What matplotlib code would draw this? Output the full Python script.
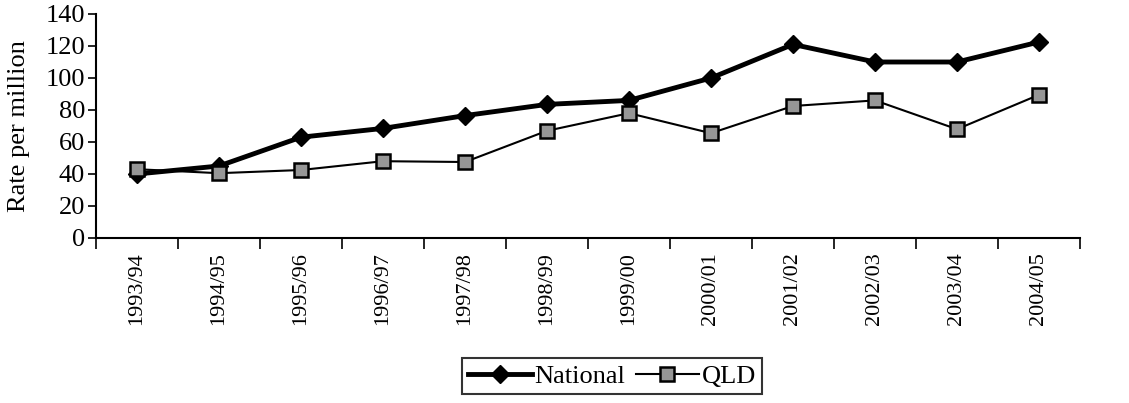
import matplotlib.pyplot as plt
import numpy as np

plt.rcParams['font.family'] = ['Liberation Serif', 'DejaVu Serif']

# data
years = ['1993/94', '1994/95', '1995/96', '1996/97', '1997/98', '1998/99',
         '1999/00', '2000/01', '2001/02', '2002/03', '2003/04', '2004/05']
national = [40, 45, 63, 68.5, 76.5, 83.5, 86, 100, 121, 110, 110, 122.5]
qld = [43, 40.5, 42.5, 48, 47.5, 67, 78, 65.5, 82.5, 86, 68, 89.5]

fig = plt.figure(figsize=(11.29, 4.03), dpi=100)
ax = fig.add_axes([96 / 1129, 1 - 238 / 403, 984 / 1129, 224 / 403])

x = np.arange(len(years))
ax.plot(x, national, color='black', lw=3.5, marker='D', ms=9.5,
        mfc='black', mec='black', label='National', zorder=3)
ax.plot(x, qld, color='black', lw=1.5, marker='s', ms=9.5,
        mfc='#969696', mec='black', mew=1.8, label='QLD', zorder=3)

ax.set_xlim(-0.5, len(years) - 0.5)
ax.set_ylim(0, 140)
ax.set_yticks(range(0, 141, 20))
ax.tick_params(axis='y', labelsize=19, direction='out', length=6, width=1.2, pad=2)

# category ticks sit between categories, labels at centres
ax.set_xticks(np.arange(-0.5, len(years)), minor=False)
ax.set_xticklabels([])
ax.set_xticks(x, minor=True)
ax.set_xticklabels(years, minor=True, rotation=90, fontsize=16)
ax.tick_params(axis='x', which='major', direction='out', length=8, width=1.2)
ax.tick_params(axis='x', which='minor', length=0, pad=10)

for s in ['top', 'right']:
    ax.spines[s].set_visible(False)
for s in ['left', 'bottom']:
    ax.spines[s].set_linewidth(1.5)

ax.set_ylabel('Rate per million', fontsize=19, labelpad=11)

leg = fig.legend(loc='center', bbox_to_anchor=(612 / 1129, 1 - 376 / 403),
                 ncol=2, fontsize=19, frameon=True, fancybox=False,
                 edgecolor='black', handlelength=2.4, handletextpad=0.1,
                 columnspacing=0.4, borderpad=0.25, borderaxespad=0)
leg.get_frame().set_linewidth(1.5)

fig.savefig('out.png', dpi=100)
